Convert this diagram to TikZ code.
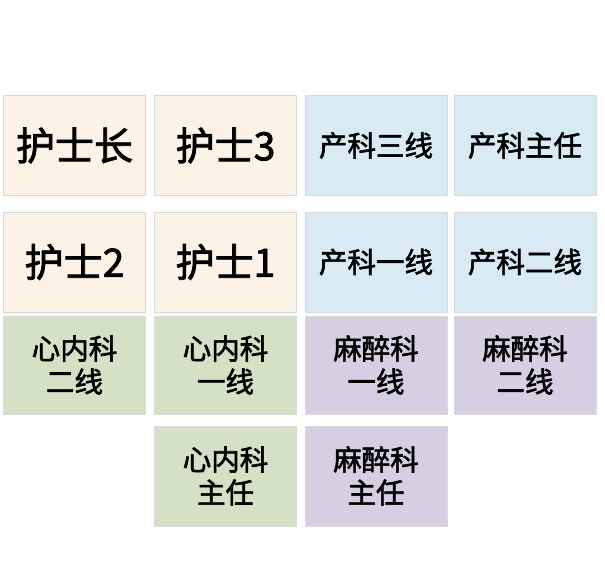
\documentclass[tikz,border=0pt]{standalone}
\usepackage{fontspec}
\setmainfont{Noto Sans CJK SC}
\newfontfamily\medfont{Noto Sans CJK SC}[FakeBold=2]
\definecolor{cbeige}{HTML}{FCF2E5}
\definecolor{cblue}{HTML}{D8EBF5}
\definecolor{cgreen}{HTML}{D4E1C4}
\definecolor{cpurple}{HTML}{D6CFE3}
\begin{document}
\begin{tikzpicture}[x=1pt,y=-1pt,
  box/.style={draw=gray!30, line width=0.6pt, minimum width=142pt, minimum height=100pt, inner sep=0pt, outer sep=0pt, align=center},
  big/.style={box, font=\medfont\fontsize{39}{43}\selectfont},
  small/.style={box, font=\medfont\fontsize{28.5}{33}\selectfont},
  nurse/.style={fill=cbeige},
  obst/.style={fill=cblue},
  card/.style={fill=cgreen},
  anes/.style={fill=cpurple}]
\useasboundingbox (0,0) rectangle (605,567);
\fill[white] (0,0) rectangle (605,567);
% row 1
\node[big,nurse] (hsz) at (74.5,145.5) {护士长};
\node[big,nurse] (hs3) at (225.5,145.5) {护士3};
\node[small,obst] (ck3) at (376,145.5) {产科三线};
\node[small,obst] (ckzr) at (525,145.5) {产科主任};
% row 2
\node[big,nurse] (hs2) at (74.5,262) {护士2};
\node[big,nurse] (hs1) at (225.5,262) {护士1};
\node[small,obst] (ck1) at (376,262) {产科一线};
\node[small,obst] (ck2) at (525,262) {产科二线};
% row 3
\node[small,card,minimum height=98pt] (xn2) at (74.5,365) {心内科\\二线};
\node[small,card,minimum height=98pt] (xn1) at (225.5,365) {心内科\\一线};
\node[small,anes,minimum height=98pt] (mz1) at (376,365) {麻醉科\\一线};
\node[small,anes,minimum height=98pt] (mz2) at (525,365) {麻醉科\\二线};
% row 4
\node[small,card] (xnzr) at (225.5,476) {心内科\\主任};
\node[small,anes] (mzzr) at (376,476) {麻醉科\\主任};
\end{tikzpicture}
\end{document}
